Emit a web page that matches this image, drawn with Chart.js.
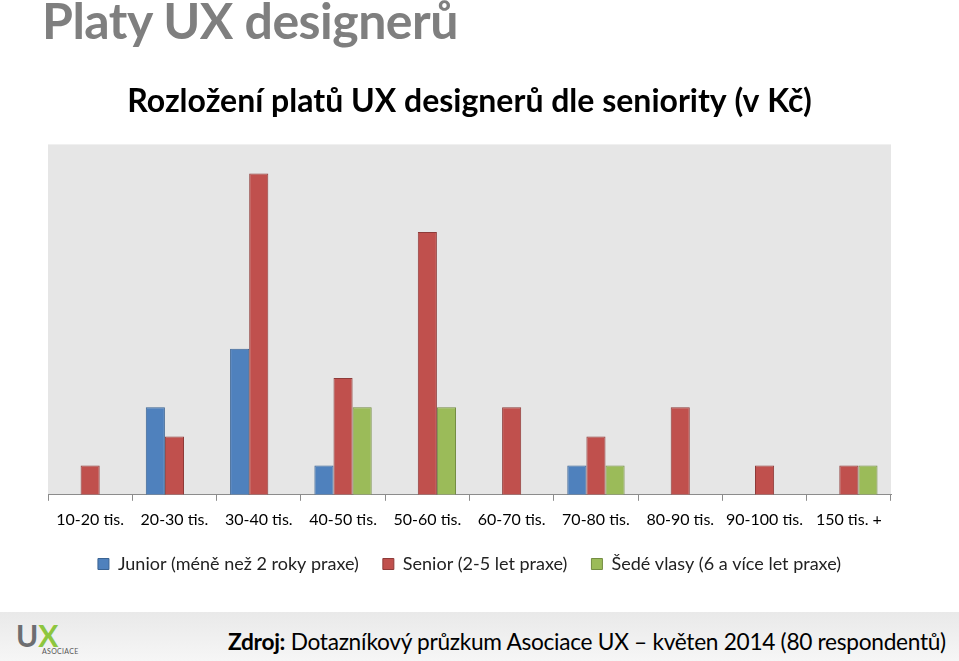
<!DOCTYPE html>
<html>
<head>
<meta charset="utf-8">
<script src="https://cdn.jsdelivr.net/npm/chart.js@4.4.1/dist/chart.umd.min.js"></script>
<style>
  html, body { margin: 0; padding: 0; background: #fff; }
  body { width: 959px; height: 661px; position: relative; overflow: hidden; font-family: Lato, "Open Sans", sans-serif; }
  #pageTitle { position: absolute; left: 42px; top: -10px; font: bold 50px Lato, sans-serif; color: #7f7f7f; white-space: nowrap; letter-spacing: -0.5px; }
  #chartBox { position: absolute; left: 0; top: 60px; width: 959px; height: 540px; }
  #footer { position: absolute; left: 0; top: 612px; width: 959px; height: 49px; background: linear-gradient(#e9e9e9, #f6f6f6); }
  #logo { position: absolute; left: 16px; top: 8px; font: bold 30px Lato, sans-serif; line-height: 30px; }
  #logo .u { color: #6d6e71; }
  #logo .x { color: #8dc63f; }
  #logo .a { position: absolute; left: 26px; top: 27px; font: 7px Lato, sans-serif; color: #555; letter-spacing: 0.3px; }
  #source { position: absolute; left: 228px; top: 16px; font: 22.7px Lato, sans-serif; color: #000; white-space: nowrap; letter-spacing: -0.3px; }
</style>
</head>
<body>
<div id="pageTitle">Platy UX designerů</div>
<div id="chartBox"><canvas id="c"></canvas></div>
<div id="footer">
  <div id="logo"><span class="u">U</span><span class="x">X</span><span class="a">ASOCIACE</span></div>
  <div id="source"><b>Zdroj:</b> Dotazníkový průzkum Asociace UX – květen 2014 (80 respondentů)</div>
</div>
<script>
const chartTitle = "Rozložení platů UX designerů dle seniority (v Kč)";
const categories = ["10-20 tis.", "20-30 tis.", "30-40 tis.", "40-50 tis.", "50-60 tis.", "60-70 tis.", "70-80 tis.", "80-90 tis.", "90-100 tis.", "150 tis. +"];
const seriesNames = ["Junior (méně než 2 roky praxe)", "Senior (2-5 let praxe)", "Šedé vlasy (6 a více let praxe)"];
const junior = [0, 3, 5, 1, 0, 0, 1, 0, 0, 0];
const senior = [1, 2, 11, 4, 9, 3, 2, 3, 1, 1];
const sedeVlasy = [0, 0, 0, 3, 3, 0, 1, 0, 0, 1];

const fills = ["#4f81bd", "#c0504d", "#9bbb59"];
const borders = ["#3a6393", "#8e3b39", "#748d43"];

const plotBg = {
  id: 'plotBg',
  beforeDraw(chart) {
    const {ctx, chartArea: a} = chart;
    ctx.save();
    ctx.fillStyle = '#e6e6e6';
    ctx.fillRect(a.left, a.top, a.right - a.left, a.bottom - a.top);
    ctx.restore();
  }
};

// nudge the legend row up a little, closer to the axis labels
const legendNudge = {
  id: 'legendNudge',
  afterLayout(chart) {
    if (chart.legend) {
      chart.legend.top -= 7;
      chart.legend.bottom -= 7;
    }
  }
};

new Chart(document.getElementById('c'), {
  type: 'bar',
  data: {
    labels: categories,
    datasets: [junior, senior, sedeVlasy].map((d, i) => ({
      label: seriesNames[i],
      data: d,
      backgroundColor: fills[i],
      borderColor: borders[i],
      borderWidth: 1,
      categoryPercentage: 0.68,
      barPercentage: 1.0
    }))
  },
  options: {
    responsive: true,
    maintainAspectRatio: false,
    animation: false,
    layout: { padding: { left: 48, right: 68, top: 0, bottom: 10 } },
    plugins: {
      title: {
        display: true,
        text: chartTitle,
        color: '#000',
        font: { family: 'Lato', size: 32, weight: 'bold' },
        padding: { top: 22, bottom: 24 }
      },
      legend: {
        position: 'bottom',
        labels: {
          color: '#222',
          font: { family: 'Lato', size: 18 },
          boxWidth: 11,
          boxHeight: 11,
          padding: 24
        }
      },
      tooltip: { enabled: false }
    },
    scales: {
      x: {
        grid: { display: true, drawOnChartArea: false, drawTicks: true, tickLength: 6, color: '#8c8c8c', offset: true },
        border: { display: true, color: '#8c8c8c' },
        ticks: { color: '#000', font: { family: 'Lato', size: 16 }, padding: 9, maxRotation: 0 }
      },
      y: {
        display: false,
        min: 0,
        max: 12
      }
    }
  },
  plugins: [plotBg, legendNudge]
});
</script>
</body>
</html>
